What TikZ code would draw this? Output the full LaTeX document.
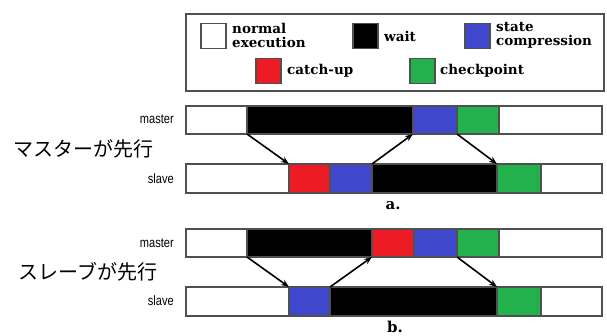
\documentclass[tikz,border=0pt]{standalone}
\usepackage{fontspec}
\setmainfont{DejaVu Serif}
\newfontfamily\lblfont{Liberation Sans}
\newfontfamily\jpfont{Noto Sans CJK JP}
\usetikzlibrary{arrows.meta}
\definecolor{cred}{RGB}{237,28,36}
\definecolor{cblue}{RGB}{63,72,204}
\definecolor{cgreen}{RGB}{34,177,76}
\definecolor{edge}{RGB}{80,80,80}
\tikzset{
  seg/.style={draw=edge, line width=1.6pt, anchor=north west, inner sep=0pt, outer sep=0pt},
  mrow/.style={seg, minimum height=28pt},
  srow/.style={seg, minimum height=29pt},
  legsq/.style={draw=edge, line width=1.5pt, anchor=north west, inner sep=0pt, minimum width=25pt, minimum height=25pt},
  legtxt/.style={anchor=west, inner sep=0pt, align=left, font=\fontsize{13.5}{14}\selectfont\bfseries},
  rowlbl/.style={anchor=east, inner sep=0pt, font=\fontsize{13.5}{14}\lblfont},
  jptxt/.style={anchor=west, inner sep=0pt, font=\fontsize{20}{22}\jpfont},
  caption/.style={inner sep=0pt, font=\fontsize{15}{16}\selectfont\bfseries},
  arr/.style={-{Stealth[length=8pt,width=6pt]}, line width=1.6pt, black}
}
\begin{document}
\begin{tikzpicture}[x=1pt,y=-1pt]
\useasboundingbox (0,0) rectangle (607,336);
% legend
\node[draw=edge, line width=2pt, anchor=north west, minimum width=418pt, minimum height=77pt, inner sep=0pt] (legend) at (185,13) {};
\node[legsq, fill=white] (lnorm) at (200,23) {};
\node[legtxt] (tnorm) at (232,35.5) {normal\\execution};
\node[legsq, fill=black] (lwait) at (352,23) {};
\node[legtxt] (twait) at (384,36) {wait};
\node[legsq, fill=cblue] (lstate) at (464,23) {};
\node[legtxt] (tstate) at (496,35.5) {state\\compression};
\node[legsq, fill=cred] (lcatch) at (255,58) {};
\node[legtxt] (tcatch) at (287,70.5) {catch-up};
\node[legsq, fill=cgreen] (lcheck) at (409,58) {};
\node[legtxt] (tcheck) at (440,70.5) {checkpoint};

% ---- a. master ----
\node[mrow, fill=white, minimum width=61pt] (am1) at (186,106) {};
\node[mrow, fill=black, minimum width=166pt] (am2) at (247,106) {};
\node[mrow, fill=cblue, minimum width=44pt] (am3) at (413,106) {};
\node[mrow, fill=cgreen, minimum width=42pt] (am4) at (457,106) {};
\node[mrow, fill=white, minimum width=103pt] (am5) at (499,106) {};
% ---- a. slave ----
\node[srow, fill=white, minimum width=103pt] (as1) at (186,164) {};
\node[srow, fill=cred, minimum width=41pt] (as2) at (289,164) {};
\node[srow, fill=cblue, minimum width=42pt] (as3) at (330,164) {};
\node[srow, fill=black, minimum width=125pt] (as4) at (372,164) {};
\node[srow, fill=cgreen, minimum width=44pt] (as5) at (497,164) {};
\node[srow, fill=white, minimum width=61pt] (as6) at (541,164) {};

\draw[arr] (am2.south west) -- (as2.north west);
\draw[arr] (as3.north east) -- (am3.south west);
\draw[arr] (am4.south west) -- (as5.north west);

\node[rowlbl] (aml) at (174,119) {\scalebox{0.82}[1]{master}};
\node[rowlbl] (asl) at (174,179) {\scalebox{0.82}[1]{slave}};
\node[jptxt] (aj) at (13,149) {マスターが先行};
\node[caption] (acap) at (393,206) {a.};

% ---- b. master ----
\node[mrow, fill=white, minimum width=61pt] (bm1) at (186,229) {};
\node[mrow, fill=black, minimum width=125pt] (bm2) at (247,229) {};
\node[mrow, fill=cred, minimum width=42pt] (bm3) at (372,229) {};
\node[mrow, fill=cblue, minimum width=43pt] (bm4) at (414,229) {};
\node[mrow, fill=cgreen, minimum width=42pt] (bm5) at (457,229) {};
\node[mrow, fill=white, minimum width=103pt] (bm6) at (499,229) {};
% ---- b. slave ----
\node[srow, fill=white, minimum width=103pt] (bs1) at (186,287) {};
\node[srow, fill=cblue, minimum width=41pt] (bs2) at (289,287) {};
\node[srow, fill=black, minimum width=167pt] (bs3) at (330,287) {};
\node[srow, fill=cgreen, minimum width=44pt] (bs4) at (497,287) {};
\node[srow, fill=white, minimum width=61pt] (bs5) at (541,287) {};

\draw[arr] (bm2.south west) -- (bs2.north west);
\draw[arr] (bs3.north west) -- (bm3.south west);
\draw[arr] (bm5.south west) -- (bs4.north west);

\node[rowlbl] (bml) at (174,243) {\scalebox{0.82}[1]{master}};
\node[rowlbl] (bsl) at (174,301) {\scalebox{0.82}[1]{slave}};
\node[jptxt] (bj) at (18,272) {スレーブが先行};
\node[caption] (bcap) at (395,327) {b.};
\end{tikzpicture}
\end{document}
